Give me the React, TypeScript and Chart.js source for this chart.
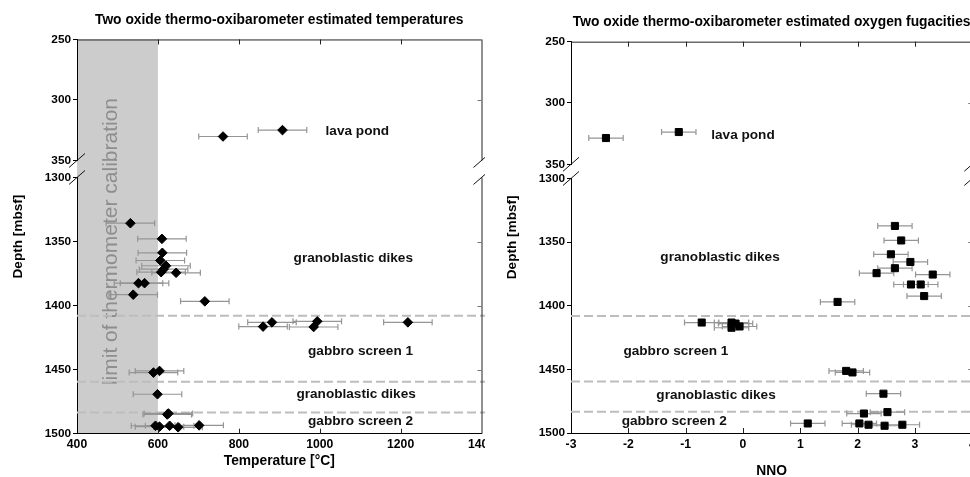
import React, { useEffect, useRef } from 'react';
import { Chart, registerables } from 'chart.js';
Chart.register(...registerables);

const FONT = '"Liberation Sans", Arial, Helvetica, sans-serif';
Chart.defaults.font.family = FONT;

// ---------- Left panel: temperatures ----------
const tempTitle = 'Two oxide thermo-oxibarometer estimated temperatures';
const tempAxisTitle = 'Temperature [°C]';
const tempUpperT = [761, 908];
const tempUpperDepth = [330.2, 324.9];
const tempLowerT = [532, 610, 611, 606, 620, 614, 608, 645, 552, 567, 539, 716, 882, 860, 994, 985, 1218, 589, 604, 599, 626, 623, 594, 604, 629, 702, 650];
const tempLowerDepth = [1335.7, 1347.9, 1358.8, 1364.8, 1368.9, 1371.6, 1373.9, 1374.4, 1382.5, 1382.5, 1391.5, 1396.7, 1413.1, 1416.4, 1412.3, 1416.7, 1413.1, 1452.3, 1451, 1469.2, 1484.2, 1485, 1493.8, 1494.5, 1493.8, 1493.5, 1495];
const tempError = 60;
const tempLabelText = ['lava pond', 'granoblastic dikes', 'gabbro screen 1', 'granoblastic dikes', 'gabbro screen 2'];
const tempLabelX = [1093, 1083, 1101, 1090, 1101];
const tempLabelDepth = [325.8, 1362.7, 1435.7, 1469.4, 1490.2];
const calibrationBand = [400, 600];
const calibrationText = 'limit of thermometer calibration';

// ---------- Right panel: oxygen fugacities ----------
const nnoTitle = 'Two oxide thermo-oxibarometer estimated oxygen fugacities';
const nnoAxisTitle = 'NNO';
const nnoUpper = [-2.39, -1.12];
const nnoUpperDepth = [328.6, 323.7];
const nnoLower = [2.65, 2.76, 2.58, 2.92, 2.65, 2.33, 3.31, 2.93, 3.10, 3.16, 1.65, -0.72, -0.20, -0.13, -0.06, -0.20, 1.80, 1.91, 2.45, 2.11, 2.52, 1.13, 2.03, 2.19, 2.47, 2.78];
const nnoLowerDepth = [1337.3, 1348.7, 1359.6, 1365.6, 1370.5, 1374.4, 1375.5, 1383.3, 1383.3, 1392.4, 1397, 1413.2, 1413.2, 1414, 1416.3, 1417.3, 1451.2, 1452.4, 1469.1, 1484.7, 1483.6, 1492.5, 1492.5, 1493.5, 1494.3, 1493.5];
const nnoError = 0.3;
const nnoLabelText = ['lava pond', 'granoblastic dikes', 'gabbro screen 1', 'granoblastic dikes', 'gabbro screen 2'];
const nnoLabelX = [0, -0.40, -1.17, -0.47, -1.20];
const nnoLabelDepth = [326.7, 1362.2, 1435.6, 1470.4, 1490.4];

// ---------- shared ----------
const depthAxisTitle = 'Depth [mbsf]';
const upperDepthRange = [250, 350];
const lowerDepthRange = [1300, 1500];
const boundaryDepths = [1408, 1459.5, 1483.4];

type Panel = {
  title: string; xTitle: string; xMin: number; xMax: number; xStep: number;
  upperX: number[]; upperDepth: number[]; lowerX: number[]; lowerDepth: number[];
  err: number; pointStyle: string; pointRadius: number;
  labelText: string[]; labelX: number[]; labelDepth: number[];
  band?: number[]; bandText?: string; bandTextX?: number;
  yWidth: number; titlePad: { top: number; bottom: number }; xAxisH: number;
  xTitleLH: number; xTitlePadB: number; padRight: number; weights: number[];
};

const plain = (v: any) => String(v);

function makeChart(canvas: HTMLCanvasElement, p: Panel) {
  const upperData = p.upperX.map((x, i) => ({ x, y: p.upperDepth[i] }));
  const lowerData = p.lowerX.map((x, i) => ({ x, y: p.lowerDepth[i] }));

  const decor = {
    id: 'decor',
    beforeDraw(chart: any) {
      const { ctx, chartArea: ca, scales } = chart;
      const xs = scales.x;
      if (p.band) {
        ctx.save();
        const x0 = xs.getPixelForValue(p.band[0]);
        const x1 = xs.getPixelForValue(p.band[1]);
        ctx.fillStyle = '#cccccc';
        ctx.fillRect(x0, ca.top, x1 - x0, ca.bottom - ca.top);
        ctx.translate(xs.getPixelForValue(p.bandTextX!), scales.yBot.getPixelForValue(1350));
        ctx.rotate(-Math.PI / 2);
        ctx.font = `21px ${FONT}`;
        ctx.fillStyle = '#8e8e8e';
        ctx.textAlign = 'center';
        ctx.textBaseline = 'middle';
        ctx.fillText(p.bandText!, 0, 0);
        ctx.restore();
      }
    },
    beforeDatasetsDraw(chart: any) {
      const { ctx, chartArea: ca, scales } = chart;
      const xs = scales.x;
      ctx.save();
      ctx.strokeStyle = '#bdbdbd';
      ctx.lineWidth = 2;
      ctx.setLineDash([9, 4]);
      boundaryDepths.forEach((d) => {
        const y = scales.yBot.getPixelForValue(d);
        ctx.beginPath();
        ctx.moveTo(ca.left, y);
        ctx.lineTo(ca.right + 4, y);
        ctx.stroke();
      });
      ctx.setLineDash([]);
      ctx.strokeStyle = '#959595';
      ctx.lineWidth = 1.2;
      const bars = (xsArr: number[], ds: number[], ax: any) => {
        xsArr.forEach((v, i) => {
          const y = ax.getPixelForValue(ds[i]);
          const a = xs.getPixelForValue(v - p.err);
          const b = xs.getPixelForValue(v + p.err);
          ctx.beginPath();
          ctx.moveTo(a, y); ctx.lineTo(b, y);
          ctx.moveTo(a, y - 3); ctx.lineTo(a, y + 3);
          ctx.moveTo(b, y - 3); ctx.lineTo(b, y + 3);
          ctx.stroke();
        });
      };
      bars(p.upperX, p.upperDepth, scales.yTop);
      bars(p.lowerX, p.lowerDepth, scales.yBot);
      ctx.restore();
    },
    afterDatasetsDraw(chart: any) {
      const { ctx, scales } = chart;
      ctx.save();
      ctx.font = `bold 13.6px ${FONT}`;
      ctx.fillStyle = '#111';
      ctx.textAlign = 'center';
      ctx.textBaseline = 'middle';
      p.labelText.forEach((t, i) => {
        const ax = p.labelDepth[i] < 1000 ? scales.yTop : scales.yBot;
        ctx.fillText(t, scales.x.getPixelForValue(p.labelX[i]), ax.getPixelForValue(p.labelDepth[i]));
      });
      ctx.restore();
    },
    afterDraw(chart: any) {
      const { ctx, chartArea: ca, scales } = chart;
      const xs = scales.x, yt = scales.yTop, yb = scales.yBot;
      ctx.save();
      ctx.strokeStyle = '#222';
      ctx.lineWidth = 1;
      ctx.beginPath();
      ctx.moveTo(ca.left, ca.top + 0.5); ctx.lineTo(ca.right, ca.top + 0.5);
      ctx.moveTo(ca.right + 0.5, ca.top); ctx.lineTo(ca.right + 0.5, yt.bottom);
      ctx.moveTo(ca.right + 0.5, yb.top); ctx.lineTo(ca.right + 0.5, ca.bottom);
      ctx.stroke();
      ctx.beginPath();
      xs.ticks.forEach((t: any) => {
        if (t.value <= p.xMin || t.value >= p.xMax) return;
        const x = Math.round(xs.getPixelForValue(t.value)) + 0.5;
        ctx.moveTo(x, ca.top); ctx.lineTo(x, ca.top + 5);
        ctx.moveTo(x, ca.bottom); ctx.lineTo(x, ca.bottom - 5);
      });
      ctx.stroke();
      ctx.strokeStyle = '#777';
      ctx.beginPath();
      [yt, yb].forEach((ax: any) => {
        ax.ticks.forEach((t: any) => {
          if (t.value <= ax.min || t.value >= ax.max) return;
          const y = Math.round(ax.getPixelForValue(t.value)) + 0.5;
          ctx.moveTo(ca.right, y); ctx.lineTo(ca.right - 4, y);
        });
      });
      ctx.stroke();
      ctx.strokeStyle = '#111';
      ctx.beginPath();
      [ca.left, ca.right].forEach((cx: number) => {
        [yt.bottom, yb.top].forEach((cy: number) => {
          ctx.moveTo(cx - 8, cy + 7); ctx.lineTo(cx + 8, cy - 7);
        });
      });
      ctx.stroke();
      ctx.translate(ca.left - 59, (ca.top + ca.bottom) / 2);
      ctx.rotate(-Math.PI / 2);
      ctx.font = `bold 13.6px ${FONT}`;
      ctx.fillStyle = '#000';
      ctx.textAlign = 'center';
      ctx.textBaseline = 'middle';
      ctx.fillText(depthAxisTitle, 0, 0);
      ctx.restore();
    },
  };

  const yCommon = (min: number, max: number, stackWeight: number, weight: number) => ({
    type: 'linear',
    position: 'left',
    stack: 'depth',
    stackWeight,
    weight,
    reverse: true,
    min,
    max,
    ticks: { stepSize: 50, color: '#000', padding: 2, font: { size: 11.8, weight: 'bold' }, callback: plain },
    grid: { display: true, drawOnChartArea: false, drawTicks: true, tickLength: 4, color: '#000' },
    border: { display: true, color: '#000', width: 1 },
    afterFit(s: any) { s.width = p.yWidth; },
  });

  return new Chart(canvas, {
    type: 'scatter',
    data: {
      datasets: [
        { data: upperData, yAxisID: 'yTop', pointStyle: p.pointStyle as any, pointRadius: p.pointRadius, backgroundColor: '#000', borderColor: '#000', borderWidth: 1 },
        { data: lowerData, yAxisID: 'yBot', pointStyle: p.pointStyle as any, pointRadius: p.pointRadius, backgroundColor: '#000', borderColor: '#000', borderWidth: 1 },
      ],
    },
    options: {
      responsive: false,
      maintainAspectRatio: false,
      animation: false,
      layout: { padding: { left: 0, top: 0, bottom: 0, right: p.padRight } },
      plugins: {
        legend: { display: false },
        tooltip: { enabled: false },
        title: {
          display: true, text: p.title, color: '#000', fullSize: false,
          font: { size: 13.8, weight: 'bold', lineHeight: 1.2 },
          padding: p.titlePad,
        },
      },
      scales: {
        x: {
          type: 'linear', position: 'bottom', min: p.xMin, max: p.xMax,
          ticks: { stepSize: p.xStep, color: '#000', padding: 4, maxRotation: 0, autoSkip: false, font: { size: 12.2, weight: 'bold' }, callback: plain },
          grid: { display: true, drawOnChartArea: false, drawTicks: false },
          border: { display: true, color: '#000', width: 1 },
          title: {
            display: true, text: p.xTitle, color: '#000',
            font: { size: 13.8, weight: 'bold', lineHeight: p.xTitleLH },
            padding: { top: 0, bottom: p.xTitlePadB },
          },
          afterFit(s: any) { s.height = p.xAxisH; },
        },
        yTop: yCommon(upperDepthRange[0], upperDepthRange[1], p.weights[0], 3),
        yGap: {
          type: 'linear', position: 'left', stack: 'depth', stackWeight: p.weights[1], weight: 2, display: false,
          afterFit(s: any) { s.width = p.yWidth; },
        },
        yBot: yCommon(lowerDepthRange[0], lowerDepthRange[1], p.weights[2], 1),
      } as any,
    },
    plugins: [decor],
  } as any);
}

const leftPanel: Panel = {
  title: tempTitle, xTitle: tempAxisTitle, xMin: 400, xMax: 1400, xStep: 200,
  upperX: tempUpperT, upperDepth: tempUpperDepth, lowerX: tempLowerT, lowerDepth: tempLowerDepth,
  err: tempError, pointStyle: 'rectRot', pointRadius: 4.8,
  labelText: tempLabelText, labelX: tempLabelX, labelDepth: tempLabelDepth,
  band: calibrationBand, bandText: calibrationText, bandTextX: 484,
  yWidth: 77, titlePad: { top: 11.7, bottom: 11.2 }, xAxisH: 43.3,
  xTitleLH: 1.2, xTitlePadB: 7.2, padRight: 18.5, weights: [121, 17, 256.2],
};

const rightPanel: Panel = {
  title: nnoTitle, xTitle: nnoAxisTitle, xMin: -3, xMax: 4, xStep: 1,
  upperX: nnoUpper, upperDepth: nnoUpperDepth, lowerX: nnoLower, lowerDepth: nnoLowerDepth,
  err: nnoError, pointStyle: 'rect', pointRadius: 5,
  labelText: nnoLabelText, labelX: nnoLabelX, labelDepth: nnoLabelDepth,
  yWidth: 86, titlePad: { top: 14.4, bottom: 10.7 }, xAxisH: 44,
  xTitleLH: 1, xTitlePadB: -1, padRight: 22.7, weights: [122.6, 14.2, 254.5],
};

function PanelCanvas({ cfg, left, width }: { cfg: Panel; left: number; width: number }) {
  const ref = useRef<HTMLCanvasElement>(null);
  useEffect(() => {
    const chart = makeChart(ref.current!, cfg);
    return () => chart.destroy();
  }, []);
  return (
    <canvas
      ref={ref}
      width={width}
      height={477}
      style={{ position: 'absolute', left, top: 0, width, height: 477, background: '#fff', display: 'block' }}
    />
  );
}

export default function App() {
  return (
    <div style={{ position: 'absolute', left: 0, top: 0, width: 970, height: 477, overflow: 'hidden', background: '#fff' }}>
      <PanelCanvas cfg={leftPanel} left={0} width={500} />
      <PanelCanvas cfg={rightPanel} left={485} width={510} />
    </div>
  );
}
